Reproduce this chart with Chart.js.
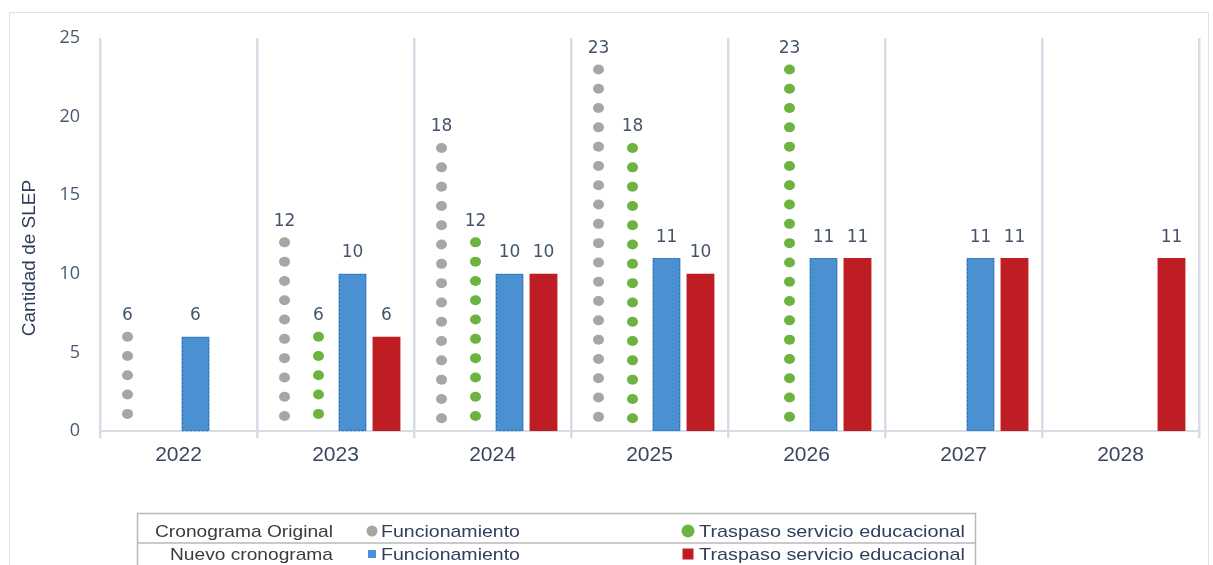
<!DOCTYPE html>
<html>
<head>
<meta charset="utf-8">
<script src="https://cdn.jsdelivr.net/npm/chart.js@4.4.1/dist/chart.umd.min.js"></script>
<style>
  html,body{margin:0;padding:0;background:#fff;overflow:hidden;}
  #wrap{position:relative;width:1213px;height:565px;}
  #frame{position:absolute;left:9px;top:12px;width:1200px;height:600px;border:1.5px solid #dfe3e9;box-sizing:border-box;}
  canvas{position:absolute;left:0;top:0;}
  #leg{position:absolute;left:0;top:0;}
</style>
</head>
<body>
<div id="wrap">
  <div id="frame"></div>
  <canvas id="c" width="1213" height="565"></canvas>
  <svg id="leg" width="1213" height="565" xmlns="http://www.w3.org/2000/svg"></svg>
</div>
<script>
// ---- data ----
const years = ['2022', '2023', '2024', '2025', '2026', '2027', '2028'];
const originalFuncionamiento = [6, 12, 18, 23, null, null, null];
const originalTraspaso      = [null, 6, 12, 18, 23, null, null];
const nuevoFuncionamiento   = [6, 10, 10, 11, 11, 11, null];
const nuevoTraspaso         = [null, 6, 10, 10, 11, 11, 11];
const yTicks = [0, 5, 10, 15, 20, 25];
const yTitle = 'Cantidad de SLEP';
const groupNames = ['Cronograma Original', 'Nuevo cronograma'];
const seriesNames = ['Funcionamiento', 'Traspaso servicio educacional'];

const GREY = '#a6a6a6', GREEN = '#6cb33f', BLUE = '#4b91d1', RED = '#bd1d23';
const LABEL_COLOR = '#44546a';

const decoPlugin = {
  id: 'deco',
  afterDatasetsDraw(chart) {
    const ctx = chart.ctx;
    ctx.save();
    chart.data.datasets.forEach((ds, i) => {
      const meta = chart.getDatasetMeta(i);
      meta.data.forEach((el, j) => {
        const v = ds.data[j];
        if (v == null) return;
        const p = el.getProps(['x', 'y', 'base', 'width'], true);
        if (ds.dotColor) {
          ctx.fillStyle = ds.dotColor;
          for (let yy = p.y; yy <= p.base - 12; yy += 19.3) {
            ctx.beginPath();
            ctx.ellipse(p.x, yy, 5.5, 5, 0, 0, Math.PI * 2);
            ctx.fill();
          }
        }
        if (ds.dashColor) {
          ctx.strokeStyle = ds.dashColor;
          ctx.lineWidth = 1;
          ctx.setLineDash([2, 2]);
          const l = Math.round(p.x - p.width / 2) + 0.5, r = Math.round(p.x + p.width / 2) - 0.5;
          ctx.strokeRect(l, Math.round(p.y) + 0.5, r - l, p.base - p.y - 1);
          ctx.setLineDash([]);
        }
        ctx.fillStyle = LABEL_COLOR;
        ctx.font = '17px "DejaVu Sans"';
        ctx.textAlign = 'center';
        ctx.textBaseline = 'middle';
        ctx.fillText(String(v), p.x, p.y - 21);
      });
    });
    // y axis title
    ctx.translate(30, 258);
    ctx.rotate(-Math.PI / 2);
    ctx.fillStyle = '#2e3d5a';
    ctx.font = '19px "Liberation Sans"';
    ctx.textAlign = 'center';
    ctx.textBaseline = 'middle';
    ctx.fillText(yTitle, 0, 0);
    ctx.restore();
  }
};

const GRID = '#d6dde7';
new Chart(document.getElementById('c'), {
  type: 'bar',
  data: {
    labels: years,
    datasets: [
      { label: groupNames[0] + ' ' + seriesNames[0], data: originalFuncionamiento, backgroundColor: 'rgba(0,0,0,0)', dotColor: GREY },
      { label: groupNames[0] + ' ' + seriesNames[1], data: originalTraspaso, backgroundColor: 'rgba(0,0,0,0)', dotColor: GREEN },
      { label: groupNames[1] + ' ' + seriesNames[0], data: nuevoFuncionamiento, backgroundColor: BLUE, dashColor: '#2c6cae' },
      { label: groupNames[1] + ' ' + seriesNames[1], data: nuevoTraspaso, backgroundColor: RED }
    ]
  },
  options: {
    responsive: false,
    animation: false,
    devicePixelRatio: 1,
    categoryPercentage: 0.866,
    barPercentage: 0.82,
    layout: { padding: { top: 38, right: 14, left: 0, bottom: 0 } },
    plugins: { legend: { display: false }, tooltip: { enabled: false } },
    scales: {
      x: {
        grid: { offset: true, color: GRID, lineWidth: 2.5, tickLength: 7, tickColor: GRID },
        border: { display: true, color: GRID, width: 2 },
        ticks: { color: '#3a4660', font: { family: 'Liberation Sans', size: 21 }, padding: 5 },
        afterFit(s) { s.height = 134; }
      },
      y: {
        min: 0, max: 25,
        afterBuildTicks(s) { s.ticks = yTicks.map(v => ({ value: v })); },
        grid: { display: false },
        border: { display: false },
        ticks: { color: '#4a5870', font: { family: 'Open Sans', size: 18 }, padding: 12 },
        afterFit(s) { s.width = 100; }
      }
    }
  },
  plugins: [decoPlugin]
});

// ---- legend table (SVG text) ----
(function () {
  const svg = document.getElementById('leg');
  const NS = 'http://www.w3.org/2000/svg';
  function el(tag, attrs, text) {
    const e = document.createElementNS(NS, tag);
    for (const k in attrs) e.setAttribute(k, attrs[k]);
    if (text) e.textContent = text;
    svg.appendChild(e);
    return e;
  }
  const font = '"Liberation Sans Narrow","Liberation Sans",Arial,sans-serif';
  el('rect', { x: 137.5, y: 513.5, width: 838, height: 70, fill: 'none', stroke: '#b9b9b9', 'stroke-width': 1.5 });
  el('line', { x1: 137, y1: 543, x2: 976, y2: 543, stroke: '#b9b9b9', 'stroke-width': 1.5 });
  const rows = [
    { y: 537, cy: 531, lx: 155, lw: 178, marker: ['circle', 'circle'], colors: [GREY, GREEN] },
    { y: 560, cy: 554, lx: 170, lw: 163, marker: ['square', 'square'], colors: [BLUE, RED] }
  ];
  rows.forEach((r, ri) => {
    el('text', { x: r.lx, y: r.y, textLength: r.lw, lengthAdjust: 'spacingAndGlyphs', fill: '#3c3c3c', 'font-family': font, 'font-size': 17 }, groupNames[ri]);
    const mx = [372, 689], tx = [381, 699], tw = [139, 266];
    for (let k = 0; k < 2; k++) {
      if (r.marker[k] === 'circle') {
        el('circle', { cx: mx[k] + (k ? -1 : 0), cy: r.cy, r: k ? 6.5 : 5.5, fill: r.colors[k] });
      } else {
        const s = k ? 11 : 8;
        el('rect', { x: mx[k] - s / 2 + (k ? -1 : 0), y: r.cy - s / 2, width: s, height: s, fill: r.colors[k] });
      }
      el('text', { x: tx[k], y: r.y, textLength: tw[k], lengthAdjust: 'spacingAndGlyphs', fill: '#2f3f5e', 'font-family': font, 'font-size': 17 }, seriesNames[k]);
    }
  });
})();
</script>
</body>
</html>
